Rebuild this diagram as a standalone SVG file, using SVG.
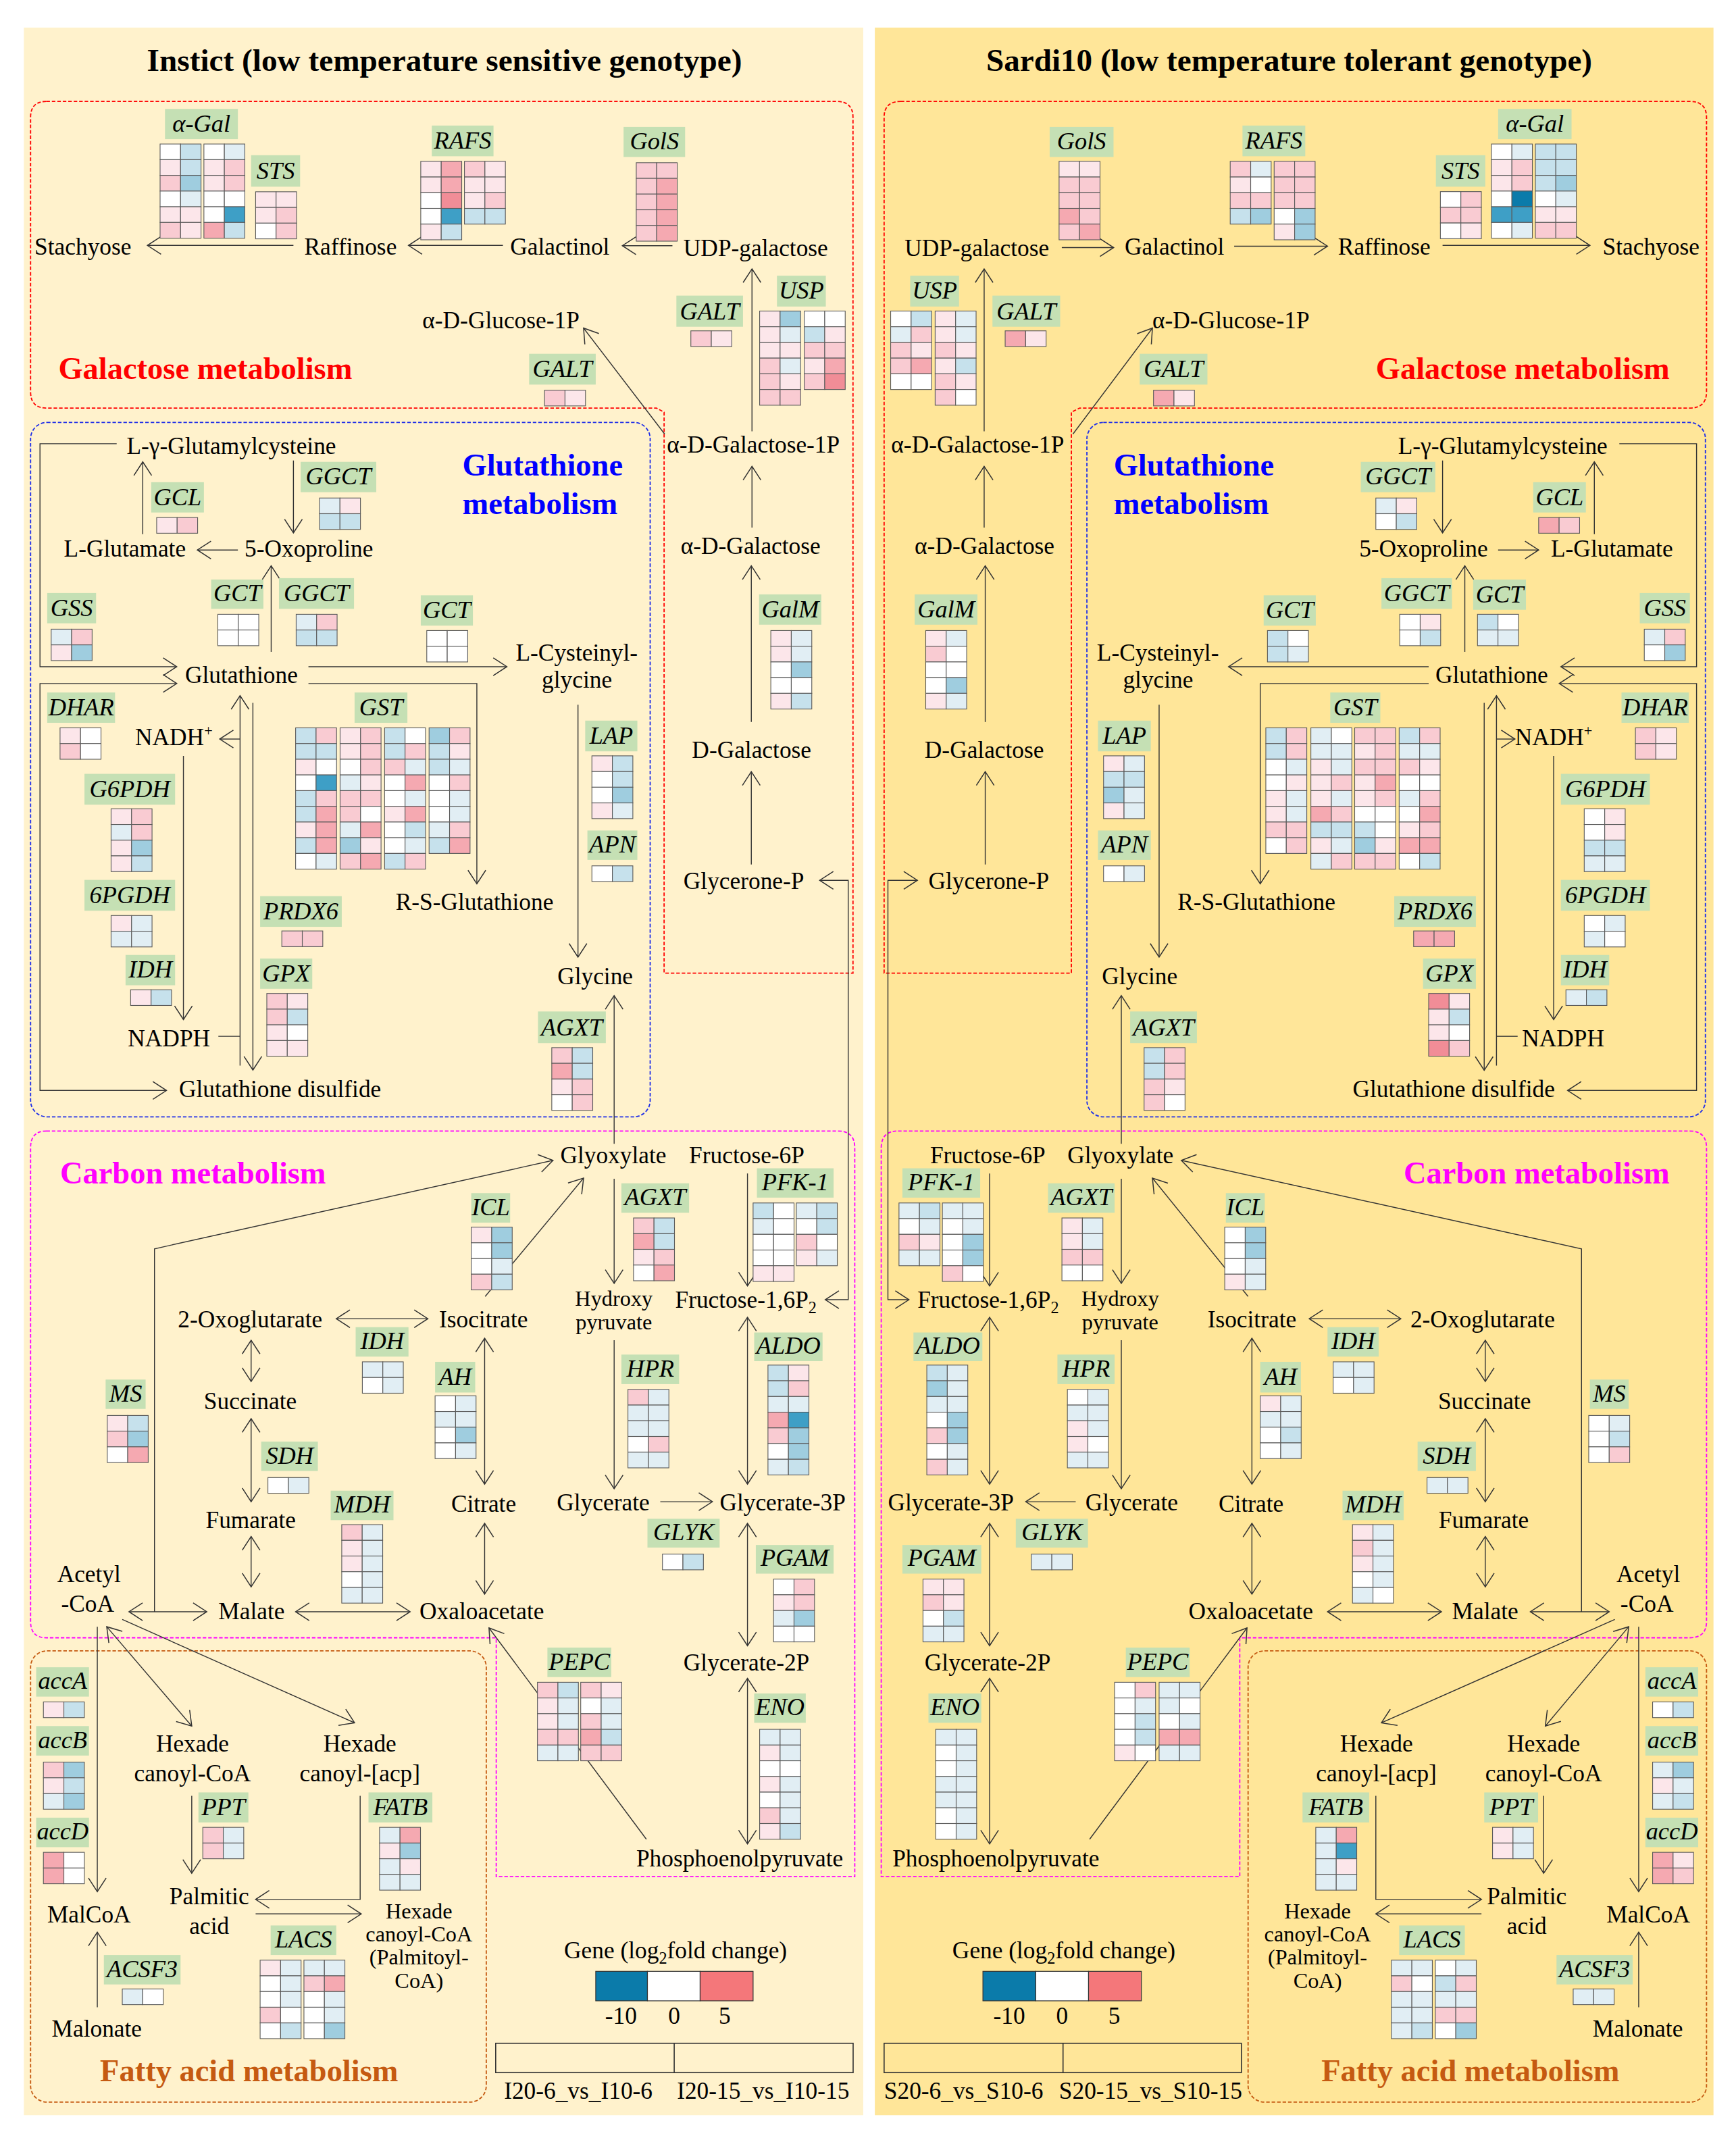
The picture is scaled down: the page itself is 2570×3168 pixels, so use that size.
<svg xmlns="http://www.w3.org/2000/svg" width="2570" height="3168" viewBox="0 0 2570 3168">
<style>
text{font-family:"Liberation Serif","Times New Roman",serif;fill:#000}
.t{font-size:17.5px}
.m{text-anchor:middle}
.sm{font-size:16px}
.g{font-size:18px;font-style:italic;text-anchor:middle}
.lb{fill:#C5E0B4}
.ti{font-size:23px;font-weight:bold}
.hm rect{width:15px;height:11.5px;stroke:#5a5a5a;stroke-width:.55}
.W{fill:#fff}.p1{fill:#FCE6EA}.p2{fill:#F9CBD2}.p3{fill:#F5A9B1}.p4{fill:#F18D97}.b1{fill:#E1EEF4}.b2{fill:#C6E1EC}.b3{fill:#9FCDDF}.b4{fill:#3E9FC6}.b5{fill:#0B7BAA}
.c{fill:none;stroke:#333;stroke-width:.7}
.e{marker-end:url(#ah)}
.s{marker-start:url(#ah)}
.box{fill:none;stroke-width:.9;stroke-dasharray:2.6 1.4}
</style>
<defs>
<marker id="ah" viewBox="-1 -1 12 15" refX="10" refY="6.5" markerWidth="12" markerHeight="15" orient="auto-start-reverse" markerUnits="userSpaceOnUse"><path d="M0,0 L10,6.5 L0,13" fill="none" stroke="#333" stroke-width="0.75"/></marker>
</defs>
<rect width="2570" height="3168" fill="#fff"/>
<g transform="scale(2.02044)">
<rect x="17.5" y="20.2" width="615" height="1529.6" fill="#FFF2CC"/>
<rect x="641" y="20.2" width="614.5" height="1529.6" fill="#FFE699"/>
<text class="ti" x="325.7" y="52" text-anchor="middle" textLength="436" lengthAdjust="spacingAndGlyphs">Instict (low temperature sensitive genotype)</text>
<text class="ti" x="944.6" y="52" text-anchor="middle" textLength="444" lengthAdjust="spacingAndGlyphs">Sardi10 (low temperature tolerant genotype)</text>

<g id="modules">
<path class="box" stroke="#FF0000" d="M34,74.3 H613 Q625,74.3 625,86 V713 H486.6 V302 L481,299 H34 Q22.4,299 22.4,287 V86 Q22.4,74.3 34,74.3 Z"/>
<rect class="box" stroke="#1F2FE8" x="22.4" y="309.5" width="454" height="508.8" rx="12"/>
<path class="box" stroke="#FF00FF" d="M34,828.7 H614 Q626.3,828.7 626.3,841 V1375 H363.6 V1200 H34 Q22.4,1200 22.4,1188 V841 Q22.4,828.7 34,828.7 Z"/>
<rect class="box" stroke="#C55A11" x="22.4" y="1209.6" width="333.9" height="330.6" rx="12"/>
<path class="box" stroke="#FF0000" d="M660,74.3 H1238 Q1250.4,74.3 1250.4,86 V287 Q1250.4,299 1238,299 H791 L785,302 V713 H647.8 V86 Q647.8,74.3 660,74.3 Z"/>
<rect class="box" stroke="#1F2FE8" x="796.4" y="309.5" width="453.2" height="508.8" rx="12"/>
<path class="box" stroke="#FF00FF" d="M658,828.7 H1238 Q1250.4,828.7 1250.4,841 V1188 Q1250.4,1200 1238,1200 H908.4 V1375 H645.7 V841 Q645.7,828.7 658,828.7 Z"/>
<rect class="box" stroke="#C55A11" x="914.5" y="1209.6" width="335.9" height="330.6" rx="12"/>
<text class="ti" x="42.8" y="277.8" style="fill:#FF0000">Galactose metabolism</text>
<text class="ti" x="1008.1" y="277.8" style="fill:#FF0000">Galactose metabolism</text>
<text class="ti" x="338.8" y="348.3" style="fill:#0000FF">Glutathione</text>
<text class="ti" x="338.8" y="376.5" style="fill:#0000FF">metabolism</text>
<text class="ti" x="816" y="348.3" style="fill:#0000FF">Glutathione</text>
<text class="ti" x="816" y="376.5" style="fill:#0000FF">metabolism</text>
<text class="ti" x="44" y="867" style="fill:#FF00FF">Carbon metabolism</text>
<text class="ti" x="1028.5" y="867" style="fill:#FF00FF">Carbon metabolism</text>
<text class="ti" x="73.3" y="1524.9" style="fill:#C55A11">Fatty acid metabolism</text>
<text class="ti" x="968.2" y="1524.9" style="fill:#C55A11">Fatty acid metabolism</text>
</g>

<g id="connectors">
<path class="c e" d="M215,179.8 H108"/>
<path class="c e" d="M368.5,179.8 H299.3"/>
<path class="c e" d="M492.7,180 H456"/>
<path class="c e" d="M551,316 V197"/>
<path class="c e" d="M487,318 L427.6,240.4"/>
<path class="c e" d="M551,386.5 V341.7"/>
<path class="c e" d="M550.5,529 V414.6"/>
<path class="c e" d="M550.5,633.4 V565.4"/>
<path class="c e s" d="M604.7,952.3 H621.5 V645 H600.6"/>
<path class="c e" d="M85.5,325.1 H29.3 V488.5 H129.5"/>
<path class="c e s" d="M129.5,500.8 H29.3 V799 H122"/>
<path class="c e" d="M174.3,403 H144.6"/>
<path class="c e" d="M104.6,391.4 V338.4"/>
<path class="c e" d="M215,337.4 V390.4"/>
<path class="c e" d="M198.7,477.6 V414.6"/>
<path class="c e" d="M226,488.5 H371.4"/>
<path class="c e" d="M226,500.8 H349.4 V647.6"/>
<path class="c e" d="M423.5,516.4 V701.3"/>
<path class="c e" d="M450,838 V729.5"/>
<path class="c e" d="M175.9,780.8 V509.7"/>
<path class="c e" d="M185.3,515 V784"/>
<path class="c e" d="M175.9,541.5 H161"/>
<path class="c e" d="M134.4,553.8 V747"/>
<path class="c" d="M160,759.3 H175.9"/>
<path class="c e" d="M113.2,1180.9 V915 L405.2,850.2"/>
<path class="c e" d="M355.5,949.9 L427.6,863.2"/>
<path class="c e" d="M450,863.7 V940.3"/>
<path class="c e" d="M547.7,859.8 V942.2"/>
<path class="c e s" d="M246.4,966.2 H313.5"/>
<path class="c e s" d="M184,982 V1012.2"/>
<path class="c e s" d="M184,1039.5 V1100.3"/>
<path class="c e s" d="M184,1125.8 V1162.7"/>
<path class="c e s" d="M355.1,980.6 V1087.4"/>
<path class="c e s" d="M355.1,1116.2 V1168"/>
<path class="c e s" d="M216.6,1180.9 H300.5"/>
<path class="c e s" d="M94.5,1180.9 H151.5"/>
<path class="c e" d="M450,982 V1090.8"/>
<path class="c e" d="M483.8,1100.3 H522"/>
<path class="c e s" d="M547.7,965.2 V1087.4"/>
<path class="c e s" d="M547.7,1116.2 V1205.8"/>
<path class="c e s" d="M547.7,1229.7 V1351"/>
<path class="c e" d="M473.6,1347.6 L358.3,1192.8"/>
<path class="c e" d="M71.3,1191.9 V1386"/>
<path class="c e" d="M71.3,1470.7 V1415.7"/>
<path class="c e s" d="M78.2,1191.9 L140.5,1264.7"/>
<path class="c e" d="M89.6,1186.6 L259.8,1262.3"/>
<path class="c e" d="M140.5,1315.8 V1372.5"/>
<path class="c e" d="M263.9,1315.8 V1391.7 H187.3"/>
<path class="c e" d="M187.3,1402.3 H264.7"/>

<path class="c e" d="M778,181.4 H816"/>
<path class="c e" d="M904.3,180.4 H972.7"/>
<path class="c e" d="M1057,179.8 H1165"/>
<path class="c e" d="M721.1,316 V197"/>
<path class="c e" d="M786.2,318 L844.4,240.4"/>
<path class="c e" d="M721.1,386.5 V341.7"/>
<path class="c e" d="M721.9,529 V414.6"/>
<path class="c e" d="M721.9,633.4 V565.4"/>
<path class="c e s" d="M666,952.3 H650.6 V645 H672.2"/>
<path class="c e" d="M1186.5,325.1 H1243.1 V488.5 H1143.7"/>
<path class="c e s" d="M1142.5,500.8 H1243.1 V799 H1148.6"/>
<path class="c e" d="M1097.7,403 H1127.4"/>
<path class="c e" d="M1168.2,391.4 V338.4"/>
<path class="c e" d="M1057,337.4 V390.4"/>
<path class="c e" d="M1073.3,477.6 V414.6"/>
<path class="c e" d="M1046.8,488.5 H900.2"/>
<path class="c e" d="M1046.8,500.8 H923.4 V647.6"/>
<path class="c e" d="M849.3,516.4 V701.3"/>
<path class="c e" d="M821.6,838 V729.5"/>
<path class="c e" d="M1096.5,780.8 V509.7"/>
<path class="c e" d="M1087.5,515 V784.2"/>
<path class="c e" d="M1096.5,541.5 H1110"/>
<path class="c e" d="M1138.4,553.8 V747"/>
<path class="c" d="M1096.5,759.3 H1112"/>
<path class="c e" d="M1158.8,1180.9 V915 L865.6,850.2"/>
<path class="c e" d="M914.5,949.9 L844.4,863.2"/>
<path class="c e" d="M821.6,863.7 V940.3"/>
<path class="c e" d="M725.1,859.8 V942.2"/>
<path class="c e s" d="M959.3,966.2 H1026.4"/>
<path class="c e s" d="M1088.3,982 V1012.2"/>
<path class="c e s" d="M1088.3,1039.5 V1100.3"/>
<path class="c e s" d="M1088.3,1125.8 V1162.7"/>
<path class="c e s" d="M917.3,980.6 V1087.4"/>
<path class="c e s" d="M917.3,1116.2 V1168"/>
<path class="c e s" d="M972.7,1180.9 H1056.2"/>
<path class="c e s" d="M1121.3,1180.9 H1179.1"/>
<path class="c e" d="M821.6,982 V1090.8"/>
<path class="c e" d="M788.2,1100.3 H751.6"/>
<path class="c e s" d="M725.1,965.2 V1087.4"/>
<path class="c e s" d="M725.1,1116.2 V1205.8"/>
<path class="c e s" d="M725.1,1229.7 V1351"/>
<path class="c e" d="M798.4,1347.6 L913.7,1192.8"/>
<path class="c e" d="M1200.7,1191.9 V1386"/>
<path class="c e" d="M1200.7,1470.7 V1415.7"/>
<path class="c e s" d="M1193.4,1191.9 L1132.3,1264.7"/>
<path class="c e" d="M1183.2,1186.6 L1012.2,1262.3"/>
<path class="c e" d="M1131.1,1315.8 V1372.5"/>
<path class="c e" d="M1008.1,1315.8 V1391.7 H1085.5"/>
<path class="c e" d="M1085.5,1402.3 H1008.1"/>
</g>

<g id="metabolites-left" class="t">
<g id="L-Stachyose"><text x="25.3" y="186.5">Stachyose</text></g>
<g id="L-Raffinose"><text x="223" y="186.5">Raffinose</text></g>
<g id="L-Galactinol"><text x="373.8" y="186.5">Galactinol</text></g>
<g id="L-UDPgal"><text x="500.8" y="187.5">UDP-galactose</text></g>
<g id="L-Glc1P"><text x="309.5" y="240.4">α-D-Glucose-1P</text></g>
<g id="L-Gal1P"><text x="488.6" y="331.5">α-D-Galactose-1P</text></g>
<g id="L-aDGal"><text x="498.8" y="406">α-D-Galactose</text></g>
<g id="L-DGal"><text x="507" y="555.5">D-Galactose</text></g>
<g id="L-GlyceroneP"><text x="500.8" y="651.5">Glycerone-P</text></g>
<g id="L-gGluCys"><text x="92.8" y="332.5">L-γ-Glutamylcysteine</text></g>
<g id="L-Glu"><text x="46.8" y="408">L-Glutamate</text></g>
<g id="L-Oxopro"><text x="179.2" y="408">5-Oxoproline</text></g>
<g id="L-GSH"><text x="135.6" y="500.5">Glutathione</text></g>
<g id="L-CysGly"><text x="377.9" y="484">L-Cysteinyl-</text><text x="397" y="504">glycine</text></g>
<g id="L-NADH"><text x="99" y="546">NADH<tspan font-size="11" dy="-7">+</tspan></text></g>
<g id="L-RSG"><text x="289.9" y="666.5">R-S-Glutathione</text></g>
<g id="L-Gly"><text x="408.4" y="721">Glycine</text></g>
<g id="L-NADPH"><text x="93.7" y="766.5">NADPH</text></g>
<g id="L-GSSG"><text x="131.1" y="804">Glutathione disulfide</text></g>
<g id="L-Glyox"><text x="410.5" y="852.5">Glyoxylate</text></g>
<g id="L-F6P"><text x="504.9" y="852.5">Fructose-6P</text></g>
<g id="L-HPyr"><text class="m sm" x="449.8" y="956.5">Hydroxy</text><text class="m sm" x="449.8" y="974">pyruvate</text></g>
<g id="L-FBP"><text x="494.7" y="958">Fructose-1,6P<tspan font-size="12" dy="4">2</tspan></text></g>
<g id="L-2OG"><text x="130.3" y="972.5">2-Oxoglutarate</text></g>
<g id="L-Icit"><text x="321.7" y="972.5">Isocitrate</text></g>
<g id="L-Succ"><text x="149.4" y="1032.3">Succinate</text></g>
<g id="L-Fum"><text x="150.7" y="1119.5">Fumarate</text></g>
<g id="L-Cit"><text x="330.6" y="1107.5">Citrate</text></g>
<g id="L-Glyc"><text x="408" y="1106.6">Glycerate</text></g>
<g id="L-G3P"><text x="527.3" y="1106.6">Glycerate-3P</text></g>
<g id="L-AcCoA"><text x="41.9" y="1159.3">Acetyl</text><text x="44.8" y="1181">-CoA</text></g>
<g id="L-Mal"><text x="160" y="1186.6">Malate</text></g>
<g id="L-OAA"><text x="307.4" y="1186.6">Oxaloacetate</text></g>
<g id="L-G2P"><text x="500.8" y="1224">Glycerate-2P</text></g>
<g id="L-PEP"><text x="466.2" y="1367.7">Phosphoenolpyruvate</text></g>
<g id="L-HexCoA"><text class="m" x="141" y="1283.5">Hexade</text><text class="m" x="141" y="1305">canoyl-CoA</text></g>
<g id="L-HexACP"><text class="m" x="263.7" y="1283.5">Hexade</text><text class="m" x="263.7" y="1305">canoyl-[acp]</text></g>
<g id="L-MalCoA"><text x="34.6" y="1408.5">MalCoA</text></g>
<g id="L-Palm"><text class="m" x="153.3" y="1395.4">Palmitic</text><text class="m" x="153.3" y="1416.8">acid</text></g>
<g id="L-PalmCoA"><text class="m sm" x="307" y="1405.5">Hexade</text><text class="m sm" x="307" y="1422.5">canoyl-CoA</text><text class="m sm" x="307" y="1439.5">(Palmitoyl-</text><text class="m sm" x="307" y="1456.5">CoA)</text></g>
<g id="L-Malonate"><text x="37.9" y="1492.3">Malonate</text></g>
</g>

<g id="metabolites-right" class="t">
<g id="R-UDPgal"><text x="662.8" y="187.5">UDP-galactose</text></g>
<g id="R-Galactinol"><text x="824.1" y="186.5">Galactinol</text></g>
<g id="R-Raffinose"><text x="980.4" y="186.5">Raffinose</text></g>
<g id="R-Stachyose"><text x="1174.3" y="186.5">Stachyose</text></g>
<g id="R-Glc1P"><text x="844.4" y="240.4">α-D-Glucose-1P</text></g>
<g id="R-Gal1P"><text x="653" y="331.5">α-D-Galactose-1P</text></g>
<g id="R-aDGal"><text x="670.2" y="406">α-D-Galactose</text></g>
<g id="R-DGal"><text x="677.5" y="555.5">D-Galactose</text></g>
<g id="R-GlyceroneP"><text x="680.3" y="651.5">Glycerone-P</text></g>
<g id="R-gGluCys"><text x="1024.4" y="332.5">L-γ-Glutamylcysteine</text></g>
<g id="R-Oxopro"><text x="995.9" y="408">5-Oxoproline</text></g>
<g id="R-Glu"><text x="1136.4" y="408">L-Glutamate</text></g>
<g id="R-GSH"><text x="1051.7" y="500.5">Glutathione</text></g>
<g id="R-CysGly"><text x="803.7" y="484">L-Cysteinyl-</text><text x="822.8" y="504">glycine</text></g>
<g id="R-RSG"><text x="862.8" y="666.5">R-S-Glutathione</text></g>
<g id="R-Gly"><text x="807.4" y="721">Glycine</text></g>
<g id="R-NADH"><text x="1110" y="546">NADH<tspan font-size="11" dy="-7">+</tspan></text></g>
<g id="R-NADPH"><text x="1115.2" y="766.5">NADPH</text></g>
<g id="R-GSSG"><text x="991.1" y="804">Glutathione disulfide</text></g>
<g id="R-F6P"><text x="681.5" y="852.5">Fructose-6P</text></g>
<g id="R-Glyox"><text x="782.1" y="852.5">Glyoxylate</text></g>
<g id="R-FBP"><text x="672.2" y="958">Fructose-1,6P<tspan font-size="12" dy="4">2</tspan></text></g>
<g id="R-HPyr"><text class="m sm" x="820.8" y="956.5">Hydroxy</text><text class="m sm" x="820.8" y="974">pyruvate</text></g>
<g id="R-Icit"><text x="884.8" y="972.5">Isocitrate</text></g>
<g id="R-2OG"><text x="1033.4" y="972.5">2-Oxoglutarate</text></g>
<g id="R-Succ"><text x="1053.7" y="1032.3">Succinate</text></g>
<g id="R-Fum"><text x="1054.1" y="1119.5">Fumarate</text></g>
<g id="R-Cit"><text x="892.9" y="1107.5">Citrate</text></g>
<g id="R-G3P"><text x="650.6" y="1106.6">Glycerate-3P</text></g>
<g id="R-Glyc"><text x="795.2" y="1106.6">Glycerate</text></g>
<g id="R-AcCoA"><text x="1184.4" y="1159.3">Acetyl</text><text x="1187.3" y="1181">-CoA</text></g>
<g id="R-Mal"><text x="1063.9" y="1186.6">Malate</text></g>
<g id="R-OAA"><text x="870.9" y="1186.6">Oxaloacetate</text></g>
<g id="R-G2P"><text x="677.5" y="1224">Glycerate-2P</text></g>
<g id="R-PEP"><text x="653.9" y="1367.7">Phosphoenolpyruvate</text></g>
<g id="R-HexACP"><text class="m" x="1008.5" y="1283.5">Hexade</text><text class="m" x="1008.5" y="1305">canoyl-[acp]</text></g>
<g id="R-HexCoA"><text class="m" x="1131" y="1283.5">Hexade</text><text class="m" x="1131" y="1305">canoyl-CoA</text></g>
<g id="R-MalCoA"><text x="1177.1" y="1408.5">MalCoA</text></g>
<g id="R-Palm"><text class="m" x="1118.7" y="1395.4">Palmitic</text><text class="m" x="1118.7" y="1416.8">acid</text></g>
<g id="R-PalmCoA"><text class="m sm" x="965.4" y="1405.5">Hexade</text><text class="m sm" x="965.4" y="1422.5">canoyl-CoA</text><text class="m sm" x="965.4" y="1439.5">(Palmitoyl-</text><text class="m sm" x="965.4" y="1456.5">CoA)</text></g>
<g id="R-Malonate"><text x="1167" y="1492.3">Malonate</text></g>
</g>

<g id="genes-left">
<g id="L-aGal"><rect class="lb" x="120.9" y="79.8" width="53.4" height="22.2"/><text class="g" x="147.6" y="96.5">α-Gal</text>
<g class="hm" transform="translate(117.3,105.5)"><rect class="W"/><rect x="15" class="b2"/><rect y="11.5" class="p1"/><rect x="15" y="11.5" class="b2"/><rect y="23" class="p2"/><rect x="15" y="23" class="b3"/><rect y="34.5" class="W"/><rect x="15" y="34.5" class="b1"/><rect y="46" class="p1"/><rect x="15" y="46" class="p1"/><rect y="57.5" class="p2"/><rect x="15" y="57.5" class="p1"/></g>
<g class="hm" transform="translate(149.4,105.5)"><rect class="W"/><rect x="15" class="b1"/><rect y="11.5" class="p1"/><rect x="15" y="11.5" class="p2"/><rect y="23" class="p1"/><rect x="15" y="23" class="p2"/><rect y="34.5" class="W"/><rect x="15" y="34.5" class="W"/><rect y="46" class="W"/><rect x="15" y="46" class="b4"/><rect y="57.5" class="p3"/><rect x="15" y="57.5" class="b2"/></g></g>
<g id="L-STS"><rect class="lb" x="184" y="113.7" width="35.9" height="23.1"/><text class="g" x="202" y="131.3">STS</text>
<g class="hm" transform="translate(187.3,140.5)"><rect class="p1"/><rect x="15" class="p1"/><rect y="11.5" class="p1"/><rect x="15" y="11.5" class="p2"/><rect y="23" class="W"/><rect x="15" y="23" class="p2"/></g></g>
<g id="L-RAFS"><rect class="lb" x="316.4" y="92" width="45.2" height="22.5"/><text class="g" x="339" y="109">RAFS</text>
<g class="hm" transform="translate(308.3,118.2)"><rect class="p1"/><rect x="15" class="p3"/><rect y="11.5" class="p1"/><rect x="15" y="11.5" class="p3"/><rect y="23" class="W"/><rect x="15" y="23" class="p4"/><rect y="34.5" class="W"/><rect x="15" y="34.5" class="b4"/><rect y="46" class="p1"/><rect x="15" y="46" class="b2"/></g>
<g class="hm" transform="translate(340.3,118.2)"><rect class="p2"/><rect x="15" class="p1"/><rect y="11.5" class="p1"/><rect x="15" y="11.5" class="p1"/><rect y="23" class="p1"/><rect x="15" y="23" class="p2"/><rect y="34.5" class="b2"/><rect x="15" y="34.5" class="b2"/></g></g>
<g id="L-GolS"><rect class="lb" x="456.9" y="93" width="45.1" height="22"/><text class="g" x="479.5" y="109.5">GolS</text>
<g class="hm" transform="translate(466.2,119.2)"><rect class="p2"/><rect x="15" class="p2"/><rect y="11.5" class="p2"/><rect x="15" y="11.5" class="p3"/><rect y="23" class="p2"/><rect x="15" y="23" class="p3"/><rect y="34.5" class="p2"/><rect x="15" y="34.5" class="p3"/><rect y="46" class="p2"/><rect x="15" y="46" class="p3"/></g></g>
<g id="L-USP"><rect class="lb" x="569.3" y="202" width="35.8" height="22.6"/><text class="g" x="587.2" y="219">USP</text>
<g class="hm" transform="translate(556.6,227.9)"><rect class="p1"/><rect x="15" class="b3"/><rect y="11.5" class="p1"/><rect x="15" y="11.5" class="b1"/><rect y="23" class="p1"/><rect x="15" y="23" class="p1"/><rect y="34.5" class="p2"/><rect x="15" y="34.5" class="b1"/><rect y="46" class="p2"/><rect x="15" y="46" class="p1"/><rect y="57.5" class="p2"/><rect x="15" y="57.5" class="p2"/></g>
<g class="hm" transform="translate(589.3,227.9)"><rect class="W"/><rect x="15" class="W"/><rect y="11.5" class="b2"/><rect x="15" y="11.5" class="p1"/><rect y="23" class="p2"/><rect x="15" y="23" class="p2"/><rect y="34.5" class="p1"/><rect x="15" y="34.5" class="p3"/><rect y="46" class="p2"/><rect x="15" y="46" class="p4"/></g></g>
<g id="L-GALT1"><rect class="lb" x="495.6" y="216.6" width="48.8" height="22.8"/><text class="g" x="520" y="234">GALT</text>
<g class="hm" transform="translate(506.2,242.4)"><rect class="p2"/><rect x="15" class="p1"/></g></g>
<g id="L-GALT2"><rect class="lb" x="387.7" y="259.2" width="48.8" height="22.6"/><text class="g" x="412.1" y="276.3">GALT</text>
<g class="hm" transform="translate(399,285.9)"><rect class="p2"/><rect x="15" class="p1"/></g></g>
<g id="L-GCL"><rect class="lb" x="110.8" y="353.3" width="38.6" height="22.2"/><text class="g" x="130.1" y="370">GCL</text>
<g class="hm" transform="translate(114.8,379.2)"><rect class="p1"/><rect x="15" class="p2"/></g></g>
<g id="L-GGCT1"><rect class="lb" x="220.3" y="338.4" width="55.4" height="22.2"/><text class="g" x="248" y="355">GGCT</text>
<g class="hm" transform="translate(234.1,364.9)"><rect class="b1"/><rect x="15" class="p1"/><rect y="11.5" class="b2"/><rect x="15" y="11.5" class="b2"/></g></g>
<g id="L-GCT1"><rect class="lb" x="154.7" y="424.6" width="38.3" height="21.5"/><text class="g" x="173.9" y="440.6">GCT</text>
<g class="hm" transform="translate(159.6,450.1)"><rect class="W"/><rect x="15" class="W"/><rect y="11.5" class="W"/><rect x="15" y="11.5" class="W"/></g></g>
<g id="L-GGCT2"><rect class="lb" x="204.4" y="423.6" width="55" height="22.5"/><text class="g" x="231.9" y="440.6">GGCT</text>
<g class="hm" transform="translate(217,450.1)"><rect class="b1"/><rect x="15" class="p2"/><rect y="11.5" class="b2"/><rect x="15" y="11.5" class="b2"/></g></g>
<g id="L-GSS"><rect class="lb" x="34.6" y="434.5" width="35.8" height="22.2"/><text class="g" x="52.5" y="451.2">GSS</text>
<g class="hm" transform="translate(37.5,461)"><rect class="b1"/><rect x="15" class="p2"/><rect y="11.5" class="p1"/><rect x="15" y="11.5" class="b3"/></g></g>
<g id="L-GCT2"><rect class="lb" x="308.3" y="436.2" width="38.2" height="22.2"/><text class="g" x="327.4" y="452.9">GCT</text>
<g class="hm" transform="translate(312.7,462)"><rect class="W"/><rect x="15" class="W"/><rect y="11.5" class="W"/><rect x="15" y="11.5" class="W"/></g></g>
<g id="L-GalM"><rect class="lb" x="556.2" y="435.5" width="45.6" height="22.2"/><text class="g" x="579" y="452.2">GalM</text>
<g class="hm" transform="translate(564.8,462)"><rect class="p1"/><rect x="15" class="b1"/><rect y="11.5" class="p1"/><rect x="15" y="11.5" class="b1"/><rect y="23" class="W"/><rect x="15" y="23" class="b3"/><rect y="34.5" class="W"/><rect x="15" y="34.5" class="W"/><rect y="46" class="p1"/><rect x="15" y="46" class="b2"/></g></g>
<g id="L-LAP"><rect class="lb" x="428.8" y="528" width="38.2" height="22.5"/><text class="g" x="447.9" y="545">LAP</text>
<g class="hm" transform="translate(433.7,553.8)"><rect class="p1"/><rect x="15" class="b2"/><rect y="11.5" class="W"/><rect x="15" y="11.5" class="b2"/><rect y="23" class="W"/><rect x="15" y="23" class="b3"/><rect y="34.5" class="p1"/><rect x="15" y="34.5" class="b1"/></g></g>
<g id="L-APN"><rect class="lb" x="430.4" y="608.5" width="36.6" height="21.5"/><text class="g" x="448.7" y="624.5">APN</text>
<g class="hm" transform="translate(433.7,634.4)"><rect class="W"/><rect x="15" class="b2"/></g></g>
<g id="L-AGXT1"><rect class="lb" x="394.2" y="741.1" width="49.7" height="23.2"/><text class="g" x="419" y="758.8">AGXT</text>
<g class="hm" transform="translate(404.3,767.6)"><rect class="p2"/><rect x="15" class="b2"/><rect y="11.5" class="p3"/><rect x="15" y="11.5" class="b2"/><rect y="23" class="p1"/><rect x="15" y="23" class="p2"/><rect y="34.5" class="W"/><rect x="15" y="34.5" class="p2"/></g></g>
<g id="L-DHAR"><rect class="lb" x="34.6" y="507.4" width="49.7" height="22.2"/><text class="g" x="59.5" y="524.1">DHAR</text>
<g class="hm" transform="translate(44,533.3)"><rect class="p1"/><rect x="15" class="W"/><rect y="11.5" class="p2"/><rect x="15" y="11.5" class="W"/></g></g>
<g id="L-G6PDH"><rect class="lb" x="61.9" y="567" width="66.4" height="22.6"/><text class="g" x="95.1" y="584.1">G6PDH</text>
<g class="hm" transform="translate(81.4,592.6)"><rect class="p1"/><rect x="15" class="p2"/><rect y="11.5" class="b1"/><rect x="15" y="11.5" class="p2"/><rect y="23" class="p1"/><rect x="15" y="23" class="b3"/><rect y="34.5" class="p1"/><rect x="15" y="34.5" class="b2"/></g></g>
<g id="L-6PGDH"><rect class="lb" x="61.9" y="644.7" width="66.4" height="22.6"/><text class="g" x="95.1" y="661.8">6PGDH</text>
<g class="hm" transform="translate(81.4,670.8)"><rect class="p1"/><rect x="15" class="b1"/><rect y="11.5" class="b1"/><rect x="15" y="11.5" class="b1"/></g></g>
<g id="L-IDH1"><rect class="lb" x="92" y="699.7" width="36.3" height="22.2"/><text class="g" x="110.2" y="716.4">IDH</text>
<g class="hm" transform="translate(95.7,725.2)"><rect class="p1"/><rect x="15" class="b2"/></g></g>
<g id="L-PRDX6"><rect class="lb" x="190.6" y="656.6" width="59.8" height="22.5"/><text class="g" x="220.5" y="673.6">PRDX6</text>
<g class="hm" transform="translate(206.5,682.1)"><rect class="p2"/><rect x="15" class="p2"/></g></g>
<g id="L-GPX"><rect class="lb" x="190.6" y="702.3" width="38.2" height="22.2"/><text class="g" x="209.7" y="719">GPX</text>
<g class="hm" transform="translate(195.5,727.9)"><rect class="p2"/><rect x="15" class="p1"/><rect y="11.5" class="p2"/><rect x="15" y="11.5" class="b2"/><rect y="23" class="p1"/><rect x="15" y="23" class="W"/><rect y="34.5" class="p1"/><rect x="15" y="34.5" class="p1"/></g></g>
<g id="L-GST"><rect class="lb" x="259.8" y="507.4" width="38.7" height="22.2"/><text class="g" x="279.2" y="524.1">GST</text>
<g class="hm" transform="translate(216.6,533.3)"><rect class="b2"/><rect x="15" class="p2"/><rect y="11.5" class="b2"/><rect x="15" y="11.5" class="b2"/><rect y="23" class="p1"/><rect x="15" y="23" class="W"/><rect y="34.5" class="W"/><rect x="15" y="34.5" class="b4"/><rect y="46" class="b2"/><rect x="15" y="46" class="p2"/><rect y="57.5" class="b2"/><rect x="15" y="57.5" class="p3"/><rect y="69" class="p1"/><rect x="15" y="69" class="p3"/><rect y="80.5" class="b2"/><rect x="15" y="80.5" class="p3"/><rect y="92" class="W"/><rect x="15" y="92" class="b1"/></g>
<g class="hm" transform="translate(249.2,533.3)"><rect class="p1"/><rect x="15" class="p2"/><rect y="11.5" class="p1"/><rect x="15" y="11.5" class="p2"/><rect y="23" class="W"/><rect x="15" y="23" class="p2"/><rect y="34.5" class="b1"/><rect x="15" y="34.5" class="p1"/><rect y="46" class="p2"/><rect x="15" y="46" class="p2"/><rect y="57.5" class="p2"/><rect x="15" y="57.5" class="W"/><rect y="69" class="b1"/><rect x="15" y="69" class="p3"/><rect y="80.5" class="b3"/><rect x="15" y="80.5" class="p1"/><rect y="92" class="p2"/><rect x="15" y="92" class="p3"/></g>
<g class="hm" transform="translate(281.8,533.3)"><rect class="b2"/><rect x="15" class="W"/><rect y="11.5" class="b2"/><rect x="15" y="11.5" class="p2"/><rect y="23" class="p2"/><rect x="15" y="23" class="b1"/><rect y="34.5" class="W"/><rect x="15" y="34.5" class="p3"/><rect y="46" class="W"/><rect x="15" y="46" class="b1"/><rect y="57.5" class="p1"/><rect x="15" y="57.5" class="p3"/><rect y="69" class="W"/><rect x="15" y="69" class="b2"/><rect y="80.5" class="W"/><rect x="15" y="80.5" class="b1"/><rect y="92" class="b2"/><rect x="15" y="92" class="p2"/></g>
<g class="hm" transform="translate(314.4,533.3)"><rect class="b3"/><rect x="15" class="p2"/><rect y="11.5" class="b2"/><rect x="15" y="11.5" class="p1"/><rect y="23" class="b2"/><rect x="15" y="23" class="b1"/><rect y="34.5" class="W"/><rect x="15" y="34.5" class="p2"/><rect y="46" class="W"/><rect x="15" y="46" class="b1"/><rect y="57.5" class="W"/><rect x="15" y="57.5" class="b1"/><rect y="69" class="b1"/><rect x="15" y="69" class="p2"/><rect y="80.5" class="b2"/><rect x="15" y="80.5" class="p3"/></g></g>
<g id="L-ICL"><rect class="lb" x="345.3" y="874.2" width="28.5" height="21.6"/><text class="g" x="359.6" y="890.3">ICL</text>
<g class="hm" transform="translate(345.3,899.1)"><rect class="p1"/><rect x="15" class="b3"/><rect y="11.5" class="W"/><rect x="15" y="11.5" class="b3"/><rect y="23" class="W"/><rect x="15" y="23" class="b1"/><rect y="34.5" class="p2"/><rect x="15" y="34.5" class="b2"/></g></g>
<g id="L-AGXT2"><rect class="lb" x="455.3" y="867" width="49.6" height="21.6"/><text class="g" x="480.1" y="883.1">AGXT</text>
<g class="hm" transform="translate(464.2,892.4)"><rect class="p2"/><rect x="15" class="b2"/><rect y="11.5" class="p3"/><rect x="15" y="11.5" class="b2"/><rect y="23" class="p1"/><rect x="15" y="23" class="p2"/><rect y="34.5" class="W"/><rect x="15" y="34.5" class="p3"/></g></g>
<g id="L-PFK1"><rect class="lb" x="554.6" y="856" width="56.2" height="21.5"/><text class="g" x="582.7" y="872">PFK-1</text>
<g class="hm" transform="translate(551.8,881.4)"><rect class="b2"/><rect x="15" class="W"/><rect y="11.5" class="b1"/><rect x="15" y="11.5" class="W"/><rect y="23" class="W"/><rect x="15" y="23" class="W"/><rect y="34.5" class="W"/><rect x="15" y="34.5" class="W"/><rect y="46" class="p1"/><rect x="15" y="46" class="p1"/></g>
<g class="hm" transform="translate(583.5,881.4)"><rect class="b1"/><rect x="15" class="b2"/><rect y="11.5" class="W"/><rect x="15" y="11.5" class="b2"/><rect y="23" class="p2"/><rect x="15" y="23" class="W"/><rect y="34.5" class="p1"/><rect x="15" y="34.5" class="b1"/></g></g>
<g id="L-IDH2"><rect class="lb" x="260.6" y="972.4" width="38.7" height="21.6"/><text class="g" x="280" y="988.5">IDH</text>
<g class="hm" transform="translate(265.5,997.8)"><rect class="b1"/><rect x="15" class="b1"/><rect y="11.5" class="W"/><rect x="15" y="11.5" class="b1"/></g></g>
<g id="L-SDH"><rect class="lb" x="191.4" y="1056.3" width="41.5" height="21.5"/><text class="g" x="212.2" y="1072.3">SDH</text>
<g class="hm" transform="translate(196.3,1082.6)"><rect class="W"/><rect x="15" class="b1"/></g></g>
<g id="L-MS"><rect class="lb" x="77.4" y="1010.8" width="29.3" height="21.5"/><text class="g" x="92.1" y="1026.8">MS</text>
<g class="hm" transform="translate(78.6,1037.1)"><rect class="p1"/><rect x="15" class="b2"/><rect y="11.5" class="p2"/><rect x="15" y="11.5" class="b3"/><rect y="23" class="W"/><rect x="15" y="23" class="p3"/></g></g>
<g id="L-AH"><rect class="lb" x="318.8" y="997.8" width="29.4" height="22.5"/><text class="g" x="333.5" y="1014.8">AH</text>
<g class="hm" transform="translate(318.8,1022.7)"><rect class="W"/><rect x="15" class="b1"/><rect y="11.5" class="b1"/><rect x="15" y="11.5" class="b1"/><rect y="23" class="W"/><rect x="15" y="23" class="b3"/><rect y="34.5" class="W"/><rect x="15" y="34.5" class="b1"/></g></g>
<g id="L-MDH"><rect class="lb" x="242.3" y="1092.2" width="46" height="21.6"/><text class="g" x="265.3" y="1108.3">MDH</text>
<g class="hm" transform="translate(250.4,1117.1)"><rect class="p2"/><rect x="15" class="b1"/><rect y="11.5" class="p1"/><rect x="15" y="11.5" class="b1"/><rect y="23" class="p1"/><rect x="15" y="23" class="b1"/><rect y="34.5" class="W"/><rect x="15" y="34.5" class="b1"/><rect y="46" class="b1"/><rect x="15" y="46" class="b1"/></g></g>
<g id="L-HPR"><rect class="lb" x="455.3" y="992.5" width="42.3" height="21.6"/><text class="g" x="476.5" y="1008.6">HPR</text>
<g class="hm" transform="translate(460.1,1018)"><rect class="p2"/><rect x="15" class="b1"/><rect y="11.5" class="b1"/><rect x="15" y="11.5" class="b1"/><rect y="23" class="b1"/><rect x="15" y="23" class="b1"/><rect y="34.5" class="W"/><rect x="15" y="34.5" class="p2"/><rect y="46" class="b1"/><rect x="15" y="46" class="b1"/></g></g>
<g id="L-GLYK"><rect class="lb" x="474.4" y="1112.8" width="52.9" height="21.1"/><text class="g" x="500.9" y="1128.4">GLYK</text>
<g class="hm" transform="translate(485.4,1138.7)"><rect class="W"/><rect x="15" class="b2"/></g></g>
<g id="L-ALDO"><rect class="lb" x="552.6" y="976.3" width="50.1" height="21"/><text class="g" x="577.7" y="991.8">ALDO</text>
<g class="hm" transform="translate(562.7,1000.2)"><rect class="b2"/><rect x="15" class="p1"/><rect y="11.5" class="b2"/><rect x="15" y="11.5" class="p2"/><rect y="23" class="b1"/><rect x="15" y="23" class="b1"/><rect y="34.5" class="p3"/><rect x="15" y="34.5" class="b4"/><rect y="46" class="p2"/><rect x="15" y="46" class="b3"/><rect y="57.5" class="W"/><rect x="15" y="57.5" class="b3"/><rect y="69" class="b1"/><rect x="15" y="69" class="b2"/></g></g>
<g id="L-PGAM"><rect class="lb" x="553.8" y="1132" width="57" height="21"/><text class="g" x="582.3" y="1147.5">PGAM</text>
<g class="hm" transform="translate(566.8,1157)"><rect class="W"/><rect x="15" class="p2"/><rect y="11.5" class="p1"/><rect x="15" y="11.5" class="p2"/><rect y="23" class="b1"/><rect x="15" y="23" class="b3"/><rect y="34.5" class="W"/><rect x="15" y="34.5" class="W"/></g></g>
<g id="L-ENO"><rect class="lb" x="552.6" y="1240.8" width="37.8" height="21.5"/><text class="g" x="571.5" y="1256.8">ENO</text>
<g class="hm" transform="translate(556.6,1267.1)"><rect class="b1"/><rect x="15" class="b1"/><rect y="11.5" class="p1"/><rect x="15" y="11.5" class="b1"/><rect y="23" class="W"/><rect x="15" y="23" class="W"/><rect y="34.5" class="p1"/><rect x="15" y="34.5" class="b1"/><rect y="46" class="W"/><rect x="15" y="46" class="b1"/><rect y="57.5" class="p2"/><rect x="15" y="57.5" class="b1"/><rect y="69" class="p1"/><rect x="15" y="69" class="b2"/></g></g>
<g id="L-PEPC"><rect class="lb" x="401.1" y="1207.2" width="46.8" height="21.6"/><text class="g" x="424.5" y="1223.3">PEPC</text>
<g class="hm" transform="translate(393.8,1232.6)"><rect class="p2"/><rect x="15" class="b2"/><rect y="11.5" class="p1"/><rect x="15" y="11.5" class="b1"/><rect y="23" class="p1"/><rect x="15" y="23" class="b1"/><rect y="34.5" class="p2"/><rect x="15" y="34.5" class="p2"/><rect y="46" class="b1"/><rect x="15" y="46" class="b1"/></g>
<g class="hm" transform="translate(425.5,1232.6)"><rect class="p2"/><rect x="15" class="p1"/><rect y="11.5" class="W"/><rect x="15" y="11.5" class="b1"/><rect y="23" class="p2"/><rect x="15" y="23" class="b1"/><rect y="34.5" class="p3"/><rect x="15" y="34.5" class="b2"/><rect y="46" class="p2"/><rect x="15" y="46" class="p2"/></g></g>
<g id="L-accA"><rect class="lb" x="26.5" y="1221.6" width="38.7" height="21.5"/><text class="g" x="45.9" y="1237.6">accA</text>
<g class="hm" transform="translate(31.8,1247)"><rect class="p1"/><rect x="15" class="b2"/></g></g>
<g id="L-accB"><rect class="lb" x="26.5" y="1264.7" width="38.7" height="21.6"/><text class="g" x="45.9" y="1280.8">accB</text>
<g class="hm" transform="translate(31.8,1291.1)"><rect class="p2"/><rect x="15" class="b3"/><rect y="11.5" class="p1"/><rect x="15" y="11.5" class="b2"/><rect y="23" class="b1"/><rect x="15" y="23" class="b3"/></g></g>
<g id="L-accD"><rect class="lb" x="26.5" y="1331.8" width="38.7" height="21.6"/><text class="g" x="45.9" y="1347.9">accD</text>
<g class="hm" transform="translate(31.8,1357.2)"><rect class="p3"/><rect x="15" class="W"/><rect y="11.5" class="p3"/><rect x="15" y="11.5" class="W"/></g></g>
<g id="L-ACSF3"><rect class="lb" x="76.1" y="1432.4" width="56.2" height="21.6"/><text class="g" x="104.2" y="1448.5">ACSF3</text>
<g class="hm" transform="translate(89.6,1457.3)"><rect class="b1"/><rect x="15" class="W"/></g></g>
<g id="L-PPT"><rect class="lb" x="145.4" y="1313.3" width="36.6" height="22"/><text class="g" x="163.7" y="1329.8">PPT</text>
<g class="hm" transform="translate(148.6,1338.9)"><rect class="p2"/><rect x="15" class="b1"/><rect y="11.5" class="p2"/><rect x="15" y="11.5" class="b1"/></g></g>
<g id="L-FATB"><rect class="lb" x="270" y="1313.3" width="46.8" height="22"/><text class="g" x="293.4" y="1329.8">FATB</text>
<g class="hm" transform="translate(278.1,1338.9)"><rect class="b1"/><rect x="15" class="p3"/><rect y="11.5" class="p1"/><rect x="15" y="11.5" class="b3"/><rect y="23" class="b1"/><rect x="15" y="23" class="p1"/><rect y="34.5" class="b1"/><rect x="15" y="34.5" class="b1"/></g></g>
<g id="L-LACS"><rect class="lb" x="198.3" y="1410.8" width="48.1" height="21.6"/><text class="g" x="222.4" y="1426.9">LACS</text>
<g class="hm" transform="translate(190.6,1436.2)"><rect class="p1"/><rect x="15" class="b1"/><rect y="11.5" class="W"/><rect x="15" y="11.5" class="b1"/><rect y="23" class="W"/><rect x="15" y="23" class="b1"/><rect y="34.5" class="p2"/><rect x="15" y="34.5" class="W"/><rect y="46" class="W"/><rect x="15" y="46" class="b2"/></g>
<g class="hm" transform="translate(222.7,1436.2)"><rect class="b1"/><rect x="15" class="b1"/><rect y="11.5" class="p2"/><rect x="15" y="11.5" class="p3"/><rect y="23" class="W"/><rect x="15" y="23" class="b1"/><rect y="34.5" class="W"/><rect x="15" y="34.5" class="b1"/><rect y="46" class="W"/><rect x="15" y="46" class="b3"/></g></g>
</g>

<g id="genes-right">
<g id="R-GolS"><rect class="lb" x="769.1" y="93" width="46.8" height="22"/><text class="g" x="792.5" y="109.5">GolS</text>
<g class="hm" transform="translate(776,118.2)"><rect class="p1"/><rect x="15" class="p1"/><rect y="11.5" class="p2"/><rect x="15" y="11.5" class="p2"/><rect y="23" class="p2"/><rect x="15" y="23" class="p2"/><rect y="34.5" class="p3"/><rect x="15" y="34.5" class="p2"/><rect y="46" class="p2"/><rect x="15" y="46" class="p3"/></g></g>
<g id="R-RAFS"><rect class="lb" x="910.4" y="92" width="46" height="22.5"/><text class="g" x="933.4" y="109">RAFS</text>
<g class="hm" transform="translate(901.4,118.2)"><rect class="p2"/><rect x="15" class="b1"/><rect y="11.5" class="p1"/><rect x="15" y="11.5" class="W"/><rect y="23" class="p2"/><rect x="15" y="23" class="p2"/><rect y="34.5" class="b2"/><rect x="15" y="34.5" class="b3"/></g>
<g class="hm" transform="translate(933.6,118.2)"><rect class="p2"/><rect x="15" class="p2"/><rect y="11.5" class="p2"/><rect x="15" y="11.5" class="p2"/><rect y="23" class="p2"/><rect x="15" y="23" class="p2"/><rect y="34.5" class="W"/><rect x="15" y="34.5" class="b3"/><rect y="46" class="p1"/><rect x="15" y="46" class="b3"/></g></g>
<g id="R-STS"><rect class="lb" x="1052.1" y="113.7" width="36.2" height="23.1"/><text class="g" x="1070.2" y="131.3">STS</text>
<g class="hm" transform="translate(1055.4,140.4)"><rect class="W"/><rect x="15" class="p2"/><rect y="11.5" class="p2"/><rect x="15" y="11.5" class="p2"/><rect y="23" class="W"/><rect x="15" y="23" class="p1"/></g></g>
<g id="R-aGal"><rect class="lb" x="1097.7" y="79.8" width="53.8" height="22.2"/><text class="g" x="1124.6" y="96.5">α-Gal</text>
<g class="hm" transform="translate(1092.8,105.5)"><rect class="W"/><rect x="15" class="b1"/><rect y="11.5" class="p1"/><rect x="15" y="11.5" class="p2"/><rect y="23" class="p1"/><rect x="15" y="23" class="p2"/><rect y="34.5" class="W"/><rect x="15" y="34.5" class="b5"/><rect y="46" class="b4"/><rect x="15" y="46" class="b4"/><rect y="57.5" class="W"/><rect x="15" y="57.5" class="b1"/></g>
<g class="hm" transform="translate(1125,105.5)"><rect class="b2"/><rect x="15" class="b2"/><rect y="11.5" class="b2"/><rect x="15" y="11.5" class="b2"/><rect y="23" class="b2"/><rect x="15" y="23" class="b3"/><rect y="34.5" class="W"/><rect x="15" y="34.5" class="b1"/><rect y="46" class="p1"/><rect x="15" y="46" class="p1"/><rect y="57.5" class="p2"/><rect x="15" y="57.5" class="p2"/></g></g>
<g id="R-USP"><rect class="lb" x="666.9" y="202" width="35.8" height="22.6"/><text class="g" x="684.8" y="219">USP</text>
<g class="hm" transform="translate(652.6,227.9)"><rect class="W"/><rect x="15" class="b2"/><rect y="11.5" class="b1"/><rect x="15" y="11.5" class="p2"/><rect y="23" class="p2"/><rect x="15" y="23" class="p1"/><rect y="34.5" class="p2"/><rect x="15" y="34.5" class="p3"/><rect y="46" class="W"/><rect x="15" y="46" class="W"/></g>
<g class="hm" transform="translate(685.2,227.9)"><rect class="p1"/><rect x="15" class="b1"/><rect y="11.5" class="p1"/><rect x="15" y="11.5" class="b1"/><rect y="23" class="p2"/><rect x="15" y="23" class="p1"/><rect y="34.5" class="p1"/><rect x="15" y="34.5" class="b2"/><rect y="46" class="p2"/><rect x="15" y="46" class="p1"/><rect y="57.5" class="p2"/><rect x="15" y="57.5" class="W"/></g></g>
<g id="R-GALT1"><rect class="lb" x="727.2" y="216.6" width="49.6" height="22.8"/><text class="g" x="752" y="234">GALT</text>
<g class="hm" transform="translate(736.5,242.4)"><rect class="p3"/><rect x="15" class="p1"/></g></g>
<g id="R-GALT2"><rect class="lb" x="835.1" y="259.2" width="49.6" height="22.6"/><text class="g" x="859.9" y="276.3">GALT</text>
<g class="hm" transform="translate(845.2,285.9)"><rect class="p3"/><rect x="15" class="p1"/></g></g>
<g id="R-GalM"><rect class="lb" x="670.2" y="435.5" width="46" height="22.2"/><text class="g" x="693.2" y="452.2">GalM</text>
<g class="hm" transform="translate(678.3,462)"><rect class="p1"/><rect x="15" class="b1"/><rect y="11.5" class="p2"/><rect x="15" y="11.5" class="W"/><rect y="23" class="W"/><rect x="15" y="23" class="W"/><rect y="34.5" class="W"/><rect x="15" y="34.5" class="b3"/><rect y="46" class="p1"/><rect x="15" y="46" class="b1"/></g></g>
<g id="R-GGCT1"><rect class="lb" x="997.1" y="338.4" width="54.6" height="22.2"/><text class="g" x="1024.4" y="355">GGCT</text>
<g class="hm" transform="translate(1008.1,364.9)"><rect class="b1"/><rect x="15" class="p1"/><rect y="11.5" class="W"/><rect x="15" y="11.5" class="b2"/></g></g>
<g id="R-GCL"><rect class="lb" x="1123.4" y="353.3" width="38.6" height="22.2"/><text class="g" x="1142.7" y="370">GCL</text>
<g class="hm" transform="translate(1127.4,379.2)"><rect class="p3"/><rect x="15" class="p2"/></g></g>
<g id="R-GGCT2"><rect class="lb" x="1012.2" y="423.6" width="51.7" height="22.5"/><text class="g" x="1038" y="440.6">GGCT</text>
<g class="hm" transform="translate(1025.6,450.1)"><rect class="W"/><rect x="15" class="p1"/><rect y="11.5" class="W"/><rect x="15" y="11.5" class="b2"/></g></g>
<g id="R-GCT1"><rect class="lb" x="1079.4" y="424.6" width="38.7" height="22.2"/><text class="g" x="1098.8" y="441.3">GCT</text>
<g class="hm" transform="translate(1082.6,450.1)"><rect class="b2"/><rect x="15" class="W"/><rect y="11.5" class="b1"/><rect x="15" y="11.5" class="b1"/></g></g>
<g id="R-GCT2"><rect class="lb" x="925.9" y="436.2" width="38.2" height="22.2"/><text class="g" x="945" y="452.9">GCT</text>
<g class="hm" transform="translate(928.7,462)"><rect class="b2"/><rect x="15" class="W"/><rect y="11.5" class="b2"/><rect x="15" y="11.5" class="b1"/></g></g>
<g id="R-GSS"><rect class="lb" x="1201.5" y="434.5" width="36.7" height="22.2"/><text class="g" x="1219.9" y="451.2">GSS</text>
<g class="hm" transform="translate(1204.8,461)"><rect class="b1"/><rect x="15" class="p2"/><rect y="11.5" class="W"/><rect x="15" y="11.5" class="b3"/></g></g>
<g id="R-LAP"><rect class="lb" x="804.5" y="528" width="38.7" height="22.5"/><text class="g" x="823.9" y="545">LAP</text>
<g class="hm" transform="translate(808.6,553.8)"><rect class="p1"/><rect x="15" class="b1"/><rect y="11.5" class="b2"/><rect x="15" y="11.5" class="b2"/><rect y="23" class="b3"/><rect x="15" y="23" class="b1"/><rect y="34.5" class="p1"/><rect x="15" y="34.5" class="b1"/></g></g>
<g id="R-APN"><rect class="lb" x="804.5" y="608.5" width="38.7" height="21.5"/><text class="g" x="823.9" y="624.5">APN</text>
<g class="hm" transform="translate(808.6,634.4)"><rect class="W"/><rect x="15" class="b1"/></g></g>
<g id="R-AGXT1"><rect class="lb" x="828.1" y="741.1" width="48.9" height="23.2"/><text class="g" x="852.6" y="758.8">AGXT</text>
<g class="hm" transform="translate(838.3,767.6)"><rect class="b2"/><rect x="15" class="p2"/><rect y="11.5" class="b2"/><rect x="15" y="11.5" class="p2"/><rect y="23" class="p2"/><rect x="15" y="23" class="p1"/><rect y="34.5" class="p2"/><rect x="15" y="34.5" class="W"/></g></g>
<g id="R-GST"><rect class="lb" x="974.7" y="507.4" width="36.7" height="22.2"/><text class="g" x="993" y="524.1">GST</text>
<g class="hm" transform="translate(927.5,533.3)"><rect class="b2"/><rect x="15" class="p2"/><rect y="11.5" class="b2"/><rect x="15" y="11.5" class="p2"/><rect y="23" class="W"/><rect x="15" y="23" class="b1"/><rect y="34.5" class="W"/><rect x="15" y="34.5" class="p1"/><rect y="46" class="p1"/><rect x="15" y="46" class="b1"/><rect y="57.5" class="p1"/><rect x="15" y="57.5" class="b1"/><rect y="69" class="p2"/><rect x="15" y="69" class="p2"/><rect y="80.5" class="W"/><rect x="15" y="80.5" class="p2"/></g>
<g class="hm" transform="translate(960.5,533.3)"><rect class="b1"/><rect x="15" class="W"/><rect y="11.5" class="b1"/><rect x="15" y="11.5" class="b1"/><rect y="23" class="p1"/><rect x="15" y="23" class="b1"/><rect y="34.5" class="p1"/><rect x="15" y="34.5" class="p2"/><rect y="46" class="p1"/><rect x="15" y="46" class="b1"/><rect y="57.5" class="p3"/><rect x="15" y="57.5" class="p2"/><rect y="69" class="b2"/><rect x="15" y="69" class="b2"/><rect y="80.5" class="p1"/><rect x="15" y="80.5" class="b1"/><rect y="92" class="b1"/><rect x="15" y="92" class="p2"/></g>
<g class="hm" transform="translate(992.6,533.3)"><rect class="p2"/><rect x="15" class="p2"/><rect y="11.5" class="p1"/><rect x="15" y="11.5" class="p2"/><rect y="23" class="p2"/><rect x="15" y="23" class="p2"/><rect y="34.5" class="p1"/><rect x="15" y="34.5" class="p3"/><rect y="46" class="p1"/><rect x="15" y="46" class="p2"/><rect y="57.5" class="W"/><rect x="15" y="57.5" class="W"/><rect y="69" class="b2"/><rect x="15" y="69" class="W"/><rect y="80.5" class="b3"/><rect x="15" y="80.5" class="p1"/><rect y="92" class="p2"/><rect x="15" y="92" class="p2"/></g>
<g class="hm" transform="translate(1025.2,533.3)"><rect class="b2"/><rect x="15" class="p2"/><rect y="11.5" class="b1"/><rect x="15" y="11.5" class="b1"/><rect y="23" class="p2"/><rect x="15" y="23" class="p1"/><rect y="34.5" class="W"/><rect x="15" y="34.5" class="W"/><rect y="46" class="b1"/><rect x="15" y="46" class="p2"/><rect y="57.5" class="W"/><rect x="15" y="57.5" class="p3"/><rect y="69" class="p1"/><rect x="15" y="69" class="p2"/><rect y="80.5" class="p3"/><rect x="15" y="80.5" class="p3"/><rect y="92" class="W"/><rect x="15" y="92" class="b2"/></g></g>
<g id="R-DHAR"><rect class="lb" x="1188.1" y="507.4" width="49.3" height="22.2"/><text class="g" x="1212.8" y="524.1">DHAR</text>
<g class="hm" transform="translate(1198.3,533.3)"><rect class="p2"/><rect x="15" class="p1"/><rect y="11.5" class="p2"/><rect x="15" y="11.5" class="p1"/></g></g>
<g id="R-G6PDH"><rect class="lb" x="1143.7" y="567" width="65.2" height="22.6"/><text class="g" x="1176.3" y="584.1">G6PDH</text>
<g class="hm" transform="translate(1160.8,592.6)"><rect class="W"/><rect x="15" class="p1"/><rect y="11.5" class="W"/><rect x="15" y="11.5" class="p1"/><rect y="23" class="b2"/><rect x="15" y="23" class="b2"/><rect y="34.5" class="b1"/><rect x="15" y="34.5" class="b1"/></g></g>
<g id="R-6PGDH"><rect class="lb" x="1143.7" y="644.7" width="65.2" height="22.6"/><text class="g" x="1176.3" y="661.8">6PGDH</text>
<g class="hm" transform="translate(1160.8,670.8)"><rect class="W"/><rect x="15" class="b1"/><rect y="11.5" class="b1"/><rect x="15" y="11.5" class="W"/></g></g>
<g id="R-IDH1"><rect class="lb" x="1143.7" y="699.7" width="35.4" height="22.2"/><text class="g" x="1161.4" y="716.4">IDH</text>
<g class="hm" transform="translate(1147.4,725.2)"><rect class="b1"/><rect x="15" class="b2"/></g></g>
<g id="R-PRDX6"><rect class="lb" x="1021.6" y="656.6" width="59.8" height="22.5"/><text class="g" x="1051.5" y="673.6">PRDX6</text>
<g class="hm" transform="translate(1035.8,682.1)"><rect class="p3"/><rect x="15" class="p3"/></g></g>
<g id="R-GPX"><rect class="lb" x="1042.7" y="702.3" width="38.7" height="22.2"/><text class="g" x="1062" y="719">GPX</text>
<g class="hm" transform="translate(1046.8,727.9)"><rect class="p4"/><rect x="15" class="p1"/><rect y="11.5" class="p1"/><rect x="15" y="11.5" class="b2"/><rect y="23" class="p1"/><rect x="15" y="23" class="W"/><rect y="34.5" class="p4"/><rect x="15" y="34.5" class="p2"/></g></g>
<g id="R-PFK1"><rect class="lb" x="661.2" y="856" width="57" height="21.5"/><text class="g" x="689.7" y="872">PFK-1</text>
<g class="hm" transform="translate(658.7,881.4)"><rect class="b1"/><rect x="15" class="b2"/><rect y="11.5" class="W"/><rect x="15" y="11.5" class="b1"/><rect y="23" class="p2"/><rect x="15" y="23" class="p1"/><rect y="34.5" class="b1"/><rect x="15" y="34.5" class="b1"/></g>
<g class="hm" transform="translate(690.5,881.4)"><rect class="b1"/><rect x="15" class="b1"/><rect y="11.5" class="W"/><rect x="15" y="11.5" class="b1"/><rect y="23" class="W"/><rect x="15" y="23" class="b3"/><rect y="34.5" class="W"/><rect x="15" y="34.5" class="b3"/><rect y="46" class="p2"/><rect x="15" y="46" class="W"/></g></g>
<g id="R-AGXT2"><rect class="lb" x="767.9" y="867" width="48.8" height="21.6"/><text class="g" x="792.3" y="883.1">AGXT</text>
<g class="hm" transform="translate(778.1,892.4)"><rect class="p1"/><rect x="15" class="b1"/><rect y="11.5" class="p1"/><rect x="15" y="11.5" class="b1"/><rect y="23" class="p2"/><rect x="15" y="23" class="p2"/><rect y="34.5" class="W"/><rect x="15" y="34.5" class="W"/></g></g>
<g id="R-ICL"><rect class="lb" x="898.2" y="874.2" width="28.5" height="21.6"/><text class="g" x="912.5" y="890.3">ICL</text>
<g class="hm" transform="translate(897.4,899.1)"><rect class="W"/><rect x="15" class="b3"/><rect y="11.5" class="W"/><rect x="15" y="11.5" class="b3"/><rect y="23" class="W"/><rect x="15" y="23" class="b1"/><rect y="34.5" class="p1"/><rect x="15" y="34.5" class="b1"/></g></g>
<g id="R-IDH2"><rect class="lb" x="972.7" y="972.4" width="37.5" height="21.6"/><text class="g" x="991.5" y="988.5">IDH</text>
<g class="hm" transform="translate(976.8,997.8)"><rect class="b1"/><rect x="15" class="b1"/><rect y="11.5" class="W"/><rect x="15" y="11.5" class="b1"/></g></g>
<g id="R-SDH"><rect class="lb" x="1038.7" y="1056.3" width="42.7" height="21.5"/><text class="g" x="1060" y="1072.3">SDH</text>
<g class="hm" transform="translate(1045.6,1082.6)"><rect class="b1"/><rect x="15" class="b1"/></g></g>
<g id="R-MS"><rect class="lb" x="1164.9" y="1010.8" width="28.5" height="21.5"/><text class="g" x="1179.2" y="1026.8">MS</text>
<g class="hm" transform="translate(1164.1,1037.1)"><rect class="W"/><rect x="15" class="b1"/><rect y="11.5" class="W"/><rect x="15" y="11.5" class="b2"/><rect y="23" class="W"/><rect x="15" y="23" class="p2"/></g></g>
<g id="R-AH"><rect class="lb" x="923.4" y="997.8" width="29.8" height="22.5"/><text class="g" x="938.3" y="1014.8">AH</text>
<g class="hm" transform="translate(923.4,1022.7)"><rect class="p1"/><rect x="15" class="b1"/><rect y="11.5" class="b1"/><rect x="15" y="11.5" class="b1"/><rect y="23" class="W"/><rect x="15" y="23" class="b2"/><rect y="34.5" class="W"/><rect x="15" y="34.5" class="b1"/></g></g>
<g id="R-MDH"><rect class="lb" x="983.7" y="1092.2" width="44.8" height="21.6"/><text class="g" x="1006.1" y="1108.3">MDH</text>
<g class="hm" transform="translate(991,1117.1)"><rect class="p1"/><rect x="15" class="b1"/><rect y="11.5" class="p2"/><rect x="15" y="11.5" class="b1"/><rect y="23" class="p1"/><rect x="15" y="23" class="b1"/><rect y="34.5" class="W"/><rect x="15" y="34.5" class="b1"/><rect y="46" class="b1"/><rect x="15" y="46" class="W"/></g></g>
<g id="R-HPR"><rect class="lb" x="774.8" y="992.5" width="41.9" height="21.6"/><text class="g" x="795.8" y="1008.6">HPR</text>
<g class="hm" transform="translate(782.1,1018)"><rect class="W"/><rect x="15" class="b1"/><rect y="11.5" class="b1"/><rect x="15" y="11.5" class="b1"/><rect y="23" class="p1"/><rect x="15" y="23" class="b1"/><rect y="34.5" class="p1"/><rect x="15" y="34.5" class="W"/><rect y="46" class="b1"/><rect x="15" y="46" class="b1"/></g></g>
<g id="R-GLYK"><rect class="lb" x="744.3" y="1112.8" width="52.9" height="21.1"/><text class="g" x="770.8" y="1128.4">GLYK</text>
<g class="hm" transform="translate(755.7,1138.7)"><rect class="b1"/><rect x="15" class="b1"/></g></g>
<g id="R-ALDO"><rect class="lb" x="669.3" y="976.3" width="50.5" height="21"/><text class="g" x="694.6" y="991.8">ALDO</text>
<g class="hm" transform="translate(679.1,1000.2)"><rect class="b2"/><rect x="15" class="b1"/><rect y="11.5" class="b3"/><rect x="15" y="11.5" class="b1"/><rect y="23" class="b1"/><rect x="15" y="23" class="b1"/><rect y="34.5" class="W"/><rect x="15" y="34.5" class="b3"/><rect y="46" class="p2"/><rect x="15" y="46" class="b3"/><rect y="57.5" class="W"/><rect x="15" y="57.5" class="b1"/><rect y="69" class="p2"/><rect x="15" y="69" class="b1"/></g></g>
<g id="R-PGAM"><rect class="lb" x="661.2" y="1132" width="57.8" height="21"/><text class="g" x="690.1" y="1147.5">PGAM</text>
<g class="hm" transform="translate(676.3,1157)"><rect class="p1"/><rect x="15" class="p1"/><rect y="11.5" class="p2"/><rect x="15" y="11.5" class="p1"/><rect y="23" class="W"/><rect x="15" y="23" class="b2"/><rect y="34.5" class="b1"/><rect x="15" y="34.5" class="b1"/></g></g>
<g id="R-ENO"><rect class="lb" x="680.3" y="1240.8" width="38.7" height="21.5"/><text class="g" x="699.7" y="1256.8">ENO</text>
<g class="hm" transform="translate(685.6,1267.1)"><rect class="b1"/><rect x="15" class="b1"/><rect y="11.5" class="W"/><rect x="15" y="11.5" class="b1"/><rect y="23" class="W"/><rect x="15" y="23" class="b1"/><rect y="34.5" class="b1"/><rect x="15" y="34.5" class="b1"/><rect y="46" class="b1"/><rect x="15" y="46" class="b1"/><rect y="57.5" class="W"/><rect x="15" y="57.5" class="b1"/><rect y="69" class="W"/><rect x="15" y="69" class="b1"/></g></g>
<g id="R-PEPC"><rect class="lb" x="824.9" y="1207.2" width="46.8" height="21.6"/><text class="g" x="848.3" y="1223.3">PEPC</text>
<g class="hm" transform="translate(816.7,1232.6)"><rect class="W"/><rect x="15" class="p2"/><rect y="11.5" class="W"/><rect x="15" y="11.5" class="b1"/><rect y="23" class="W"/><rect x="15" y="23" class="b2"/><rect y="34.5" class="W"/><rect x="15" y="34.5" class="b2"/><rect y="46" class="p1"/><rect x="15" y="46" class="W"/></g>
<g class="hm" transform="translate(849.3,1232.6)"><rect class="b1"/><rect x="15" class="b1"/><rect y="11.5" class="b1"/><rect x="15" y="11.5" class="W"/><rect y="23" class="W"/><rect x="15" y="23" class="b1"/><rect y="34.5" class="p3"/><rect x="15" y="34.5" class="p3"/><rect y="46" class="b1"/><rect x="15" y="46" class="b1"/></g></g>
<g id="R-accA"><rect class="lb" x="1205.6" y="1221.6" width="38.7" height="21.5"/><text class="g" x="1225" y="1237.6">accA</text>
<g class="hm" transform="translate(1210.9,1247)"><rect class="W"/><rect x="15" class="b2"/></g></g>
<g id="R-accB"><rect class="lb" x="1205.6" y="1264.7" width="38.7" height="21.6"/><text class="g" x="1225" y="1280.8">accB</text>
<g class="hm" transform="translate(1210.9,1291.1)"><rect class="b1"/><rect x="15" class="b3"/><rect y="11.5" class="p1"/><rect x="15" y="11.5" class="b1"/><rect y="23" class="b1"/><rect x="15" y="23" class="b2"/></g></g>
<g id="R-accD"><rect class="lb" x="1205.6" y="1331.8" width="38.7" height="21.6"/><text class="g" x="1225" y="1347.9">accD</text>
<g class="hm" transform="translate(1210.9,1357.2)"><rect class="p3"/><rect x="15" class="p1"/><rect y="11.5" class="p3"/><rect x="15" y="11.5" class="p2"/></g></g>
<g id="R-ACSF3"><rect class="lb" x="1140.5" y="1432.4" width="55.8" height="21.6"/><text class="g" x="1168.4" y="1448.5">ACSF3</text>
<g class="hm" transform="translate(1152.7,1457.3)"><rect class="b1"/><rect x="15" class="b1"/></g></g>
<g id="R-PPT"><rect class="lb" x="1087.5" y="1313.3" width="39.5" height="22"/><text class="g" x="1107.3" y="1329.8">PPT</text>
<g class="hm" transform="translate(1093.6,1338.9)"><rect class="p1"/><rect x="15" class="b1"/><rect y="11.5" class="p1"/><rect x="15" y="11.5" class="b1"/></g></g>
<g id="R-FATB"><rect class="lb" x="954.4" y="1313.3" width="48.8" height="22"/><text class="g" x="978.8" y="1329.8">FATB</text>
<g class="hm" transform="translate(964.1,1338.9)"><rect class="b1"/><rect x="15" class="p3"/><rect y="11.5" class="b1"/><rect x="15" y="11.5" class="b4"/><rect y="23" class="b1"/><rect x="15" y="23" class="p1"/><rect y="34.5" class="b1"/><rect x="15" y="34.5" class="b1"/></g></g>
<g id="R-LACS"><rect class="lb" x="1025.2" y="1410.8" width="48.1" height="21.6"/><text class="g" x="1049.3" y="1426.9">LACS</text>
<g class="hm" transform="translate(1019.5,1436.2)"><rect class="b1"/><rect x="15" class="b1"/><rect y="11.5" class="p2"/><rect x="15" y="11.5" class="W"/><rect y="23" class="b1"/><rect x="15" y="23" class="b1"/><rect y="34.5" class="b1"/><rect x="15" y="34.5" class="b1"/><rect y="46" class="b1"/><rect x="15" y="46" class="b2"/></g>
<g class="hm" transform="translate(1051.7,1436.2)"><rect class="W"/><rect x="15" class="b1"/><rect y="11.5" class="b2"/><rect x="15" y="11.5" class="p2"/><rect y="23" class="b1"/><rect x="15" y="23" class="b1"/><rect y="34.5" class="p2"/><rect x="15" y="34.5" class="p2"/><rect y="46" class="W"/><rect x="15" y="46" class="b3"/></g></g>
</g>

<g id="legend-left" class="t">
<text x="413.3" y="1434.8">Gene (log<tspan font-size="12" dy="4">2</tspan><tspan dy="-4">fold change)</tspan></text>
<rect x="436.5" y="1444.4" width="37.9" height="21.6" fill="#0B7BAA" stroke="#333" stroke-width=".6"/>
<rect x="474.4" y="1444.4" width="38.6" height="21.6" fill="#fff" stroke="#333" stroke-width=".6"/>
<rect x="513" y="1444.4" width="38.8" height="21.6" fill="#F4777A" stroke="#333" stroke-width=".6"/>
<text class="m" x="455" y="1482.7">-10</text><text class="m" x="494" y="1482.7">0</text><text class="m" x="531" y="1482.7">5</text>
<rect x="363.2" y="1497.1" width="261.9" height="21.5" fill="none" stroke="#333" stroke-width=".8"/>
<path d="M494,1497.1 V1518.6" stroke="#333" stroke-width=".8"/>
<text x="369.3" y="1537.8">I20-6_vs_I10-6</text><text x="496" y="1537.8">I20-15_vs_I10-15</text>
</g>
<g id="legend-right" class="t">
<text x="697.8" y="1434.8">Gene (log<tspan font-size="12" dy="4">2</tspan><tspan dy="-4">fold change)</tspan></text>
<rect x="720.2" y="1444.4" width="38.7" height="21.6" fill="#0B7BAA" stroke="#333" stroke-width=".6"/>
<rect x="758.9" y="1444.4" width="38.7" height="21.6" fill="#fff" stroke="#333" stroke-width=".6"/>
<rect x="797.6" y="1444.4" width="38.7" height="21.6" fill="#F4777A" stroke="#333" stroke-width=".6"/>
<text class="m" x="739.5" y="1482.7">-10</text><text class="m" x="778.2" y="1482.7">0</text><text class="m" x="816.5" y="1482.7">5</text>
<rect x="647.8" y="1497.1" width="261.8" height="21.5" fill="none" stroke="#333" stroke-width=".8"/>
<path d="M778.9,1497.1 V1518.6" stroke="#333" stroke-width=".8"/>
<text x="647.8" y="1537.8">S20-6_vs_S10-6</text><text x="776" y="1537.8">S20-15_vs_S10-15</text>
</g>
</g>
</svg>
